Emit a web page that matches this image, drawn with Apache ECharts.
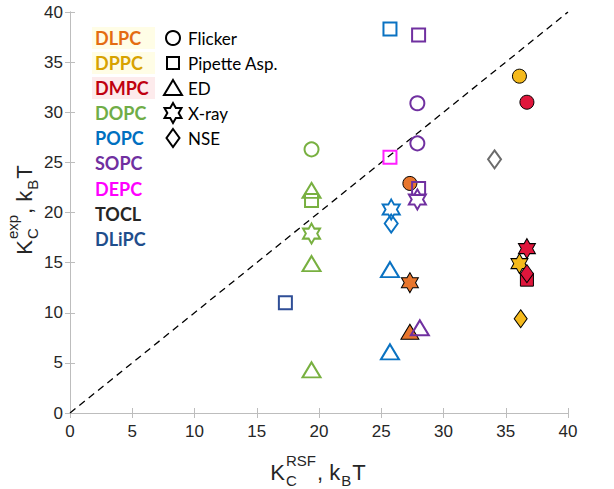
<!DOCTYPE html>
<html>
<head>
<meta charset="utf-8">
<script src="https://cdn.jsdelivr.net/npm/echarts@6/dist/echarts.min.js"></script>
<style>html,body{margin:0;padding:0;background:#fff}#c{width:614px;height:489px}</style>
</head>
<body>
<div id="c"></div>
<script>
// ---------- DATA ----------
const lipids = ['DLPC','DPPC','DMPC','DOPC','POPC','SOPC','DEPC','TOCL','DLiPC'];
const methods = ['Flicker','Pipette Asp.','ED','X-ray','NSE'];
const axisTicks = [0,5,10,15,20,25,30,35,40];
// [K_C^RSF, K_C^exp, method]
const DLPC = [[27.3,22.9,'Flicker'],[27.3,13.0,'X-ray'],[27.3,8.1,'ED']];
const DPPC = [[36.1,33.6,'Flicker'],[36.1,14.9,'X-ray'],[36.2,9.4,'NSE']];
const DMPC = [[36.7,13.3,'Pipette Asp.'],[36.7,13.9,'NSE'],[36.7,31.0,'Flicker'],[36.7,16.4,'X-ray']];
const DOPC = [[19.4,26.3,'Flicker'],[19.4,22.2,'ED'],[19.4,21.2,'Pipette Asp.'],[19.4,17.9,'X-ray'],[19.4,14.9,'ED'],[19.4,4.3,'ED']];
const POPC = [[25.7,38.3,'Pipette Asp.'],[25.8,20.3,'X-ray'],[25.8,18.9,'NSE'],[25.7,14.3,'ED'],[25.7,6.1,'ED']];
const SOPC = [[28.0,37.7,'Pipette Asp.'],[27.9,30.9,'Flicker'],[27.9,26.9,'Flicker'],[28.0,22.4,'Pipette Asp.'],[27.9,21.3,'X-ray'],[28.1,8.5,'ED']];
const DEPC = [[25.7,25.5,'Pipette Asp.']];
const TOCL = [[34.1,25.3,'NSE']];
const DLiPC = [[17.3,11.0,'Pipette Asp.']];
const lipidData = {DLPC,DPPC,DMPC,DOPC,POPC,SOPC,DEPC,TOCL,DLiPC};
const identityLine = [[0,0],[40,40]];

// ---------- STYLES ----------
const markColor = {DLPC:'#E8762D',DPPC:'#F5BA1C',DMPC:'#E0163C',DOPC:'#78B040',POPC:'#0A72C2',SOPC:'#7030A0',DEPC:'#FF1FFF',TOCL:'#6B6B6B',DLiPC:'#2F4E96'};
const textColor = {DLPC:'#E46C12',DPPC:'#D7A200',DMPC:'#C00010',DOPC:'#70AD47',POPC:'#0070C0',SOPC:'#7030A0',DEPC:'#FF00FF',TOCL:'#262626',DLiPC:'#1F4E8C'};
const filled = {DLPC:true,DPPC:true,DMPC:true};
const hexPath = 'path://M0,-1L0.2887,-0.5L0.866,-0.5L0.577,0L0.866,0.5L0.2887,0.5L0,1L-0.2887,0.5L-0.866,0.5L-0.577,0L-0.866,-0.5L-0.2887,-0.5Z';
const symInfo = {
  'Flicker':{symbol:'circle',size:14},
  'Pipette Asp.':{symbol:'rect',size:13},
  'ED':{symbol:'triangle',size:[18,15]},
  'X-ray':{symbol:hexPath,size:[17,20]},
  'NSE':{symbol:'diamond',size:[13,18]}
};
const axisGray = '#BDBDBD';
const arialFont = "'Liberation Sans', Arial, sans-serif";
const calibriFont = "Lato, 'Open Sans', sans-serif";

const series = [{
  type:'line', data:identityLine, showSymbol:false, silent:true, z:1,
  lineStyle:{color:'#000',width:1.3,type:[7,5]}
}];
lipids.forEach(l=>{
  const isF = !!filled[l];
  series.push({
    type:'scatter', name:l, z: isF?2:3,
    data: lipidData[l].map(d=>({value:[d[0],d[1]],symbol:symInfo[d[2]].symbol,symbolSize:symInfo[d[2]].size})),
    itemStyle: isF ? {color:markColor[l],borderColor:'#000',borderWidth:1,opacity:1}
                   : {color:'rgba(255,255,255,0)',borderColor:markColor[l],borderWidth:2,opacity:1}
  });
});

// ---------- axis titles (sub/superscripts) ----------
const mctx = document.createElement('canvas').getContext('2d');
function w(t,fs){mctx.font=fs+'px '+arialFont;return mctx.measureText(t).width;}
const BIG=22, SMALL=15;
function titlePieces(sup1, sub1){
  const parts = [{t:'K'},{sup:sup1,sub:sub1},{t:', k'},{sub:'B'},{t:'T'}];
  const out=[]; let x=0;
  parts.forEach(p=>{
    if(p.t){out.push({t:p.t,x:x,y:0,fs:BIG});x+=w(p.t,BIG);}
    else{
      let adv=0;
      if(p.sup){out.push({t:p.sup,x:x+1,y:-12,fs:SMALL});adv=Math.max(adv,w(p.sup,SMALL)+1);}
      if(p.sub){out.push({t:p.sub,x:x+1,y:8,fs:SMALL});adv=Math.max(adv,w(p.sub,SMALL)+1);}
      x+=adv+1;
    }
  });
  return {items:out,width:x};
}
function titleGroup(sup1,sub1,cx,cy,rot){
  const tp = titlePieces(sup1,sub1);
  return {type:'group',x:cx,y:cy,rotation:rot,silent:true,
    children: tp.items.map(it=>({type:'text',x:it.x-tp.width/2,y:it.y,
      style:{text:it.t,fontSize:it.fs,fontFamily:arialFont,fill:'#262626',verticalAlign:'middle',align:'left'}}))};
}

// ---------- legend graphics ----------
const rowY = [38,63,88,113,138,163,189,214,239];
const graphics = [];
[['DLPC','#FFFDE6'],['DPPC','#FFFDE6'],['DMPC','#FDEBEC']].forEach(h=>{
  const i = lipids.indexOf(h[0]);
  graphics.push({type:'rect',shape:{x:92,y:rowY[i]-11,width:63,height:22},style:{fill:h[1]},silent:true,z:0});
});
lipids.forEach((l,i)=>{
  graphics.push({type:'text',x:95,y:rowY[i],silent:true,z:5,
    style:{text:l,fontSize:18,fontWeight:'bold',fontFamily:calibriFont,fill:textColor[l],verticalAlign:'middle'}});
});
function hexPoints(cx,cy,rx,ry){
  const pts=[];for(let k=0;k<12;k++){const a=k*Math.PI/6;const r=(k%2===0)?1:0.5774;pts.push([cx+rx*r*Math.sin(a),cy-ry*r*Math.cos(a)]);}return pts;
}
methods.forEach((m,i)=>{
  const cx=173, cy=rowY[i];
  const st={fill:'none',stroke:'#000',lineWidth:2};
  let g;
  if(m==='Flicker') g={type:'circle',shape:{cx:cx,cy:cy,r:7},style:st};
  else if(m==='Pipette Asp.') g={type:'rect',shape:{x:cx-6,y:cy-6,width:12,height:12},style:st};
  else if(m==='ED') g={type:'polygon',shape:{points:[[cx,cy-8],[cx+9,cy+7],[cx-9,cy+7]]},style:st};
  else if(m==='X-ray') g={type:'polygon',shape:{points:hexPoints(cx,cy,9.8,10)},style:st};
  else g={type:'polygon',shape:{points:[[cx,cy-9],[cx+6.5,cy],[cx,cy+9],[cx-6.5,cy]]},style:st};
  g.silent=true; g.z=5;
  graphics.push(g);
  graphics.push({type:'text',x:188,y:cy,silent:true,z:5,
    style:{text:m,fontSize:17,fontFamily:calibriFont,fill:'#000',verticalAlign:'middle'}});
});
graphics.push(titleGroup('RSF','C',318,472,0));
graphics.push(titleGroup('exp','C',24,210,Math.PI/2));

const axisCommon = {
  type:'value', min:axisTicks[0], max:axisTicks[axisTicks.length-1], interval:axisTicks[1]-axisTicks[0],
  splitLine:{show:false},
  axisLine:{show:true,lineStyle:{color:axisGray,width:1}},
  axisTick:{show:true,inside:true,length:5,lineStyle:{color:axisGray}}
};
const chart = echarts.init(document.getElementById('c'),null,{renderer:'svg'});
chart.setOption({
  animation:false,
  backgroundColor:'#fff',
  grid:{left:70,right:46,top:12,bottom:76,containLabel:false},
  xAxis:[
    Object.assign({},axisCommon,{position:'bottom',axisLabel:{color:'#262626',fontSize:17,fontFamily:arialFont,margin:10}}),
    Object.assign({},axisCommon,{position:'top',axisLabel:{show:false}})
  ],
  yAxis:[
    Object.assign({},axisCommon,{position:'left',axisLabel:{color:'#262626',fontSize:17,fontFamily:arialFont,margin:7}}),
    Object.assign({},axisCommon,{position:'right',axisLabel:{show:false}})
  ],
  series: series,
  graphic: graphics
});
</script>
</body>
</html>
